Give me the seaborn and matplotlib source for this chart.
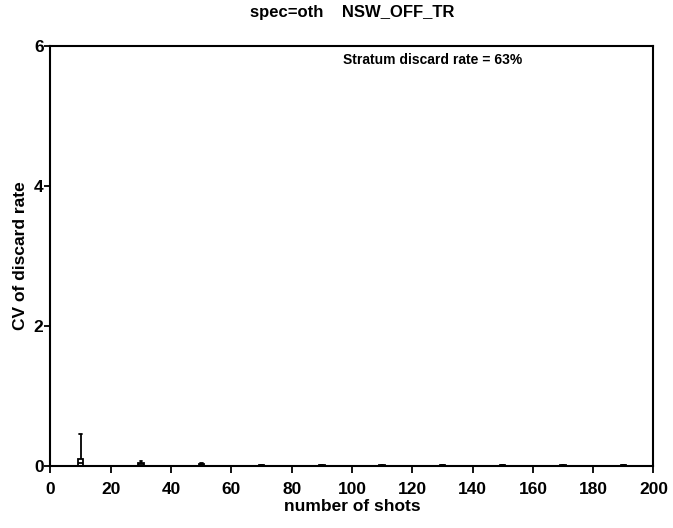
import numpy as np
import pandas as pd
import matplotlib
matplotlib.use("Agg")
import matplotlib.pyplot as plt
import seaborn as sns

# data
shots = [10, 30, 50, 70, 90, 110, 130, 150, 170, 190]
cv_min = [0.0, 0.0, 0.0, 0.0, 0.0, 0.0, 0.0, 0.0, 0.0, 0.0]
cv_q1 = [0.005, 0.005, 0.004, 0.003, 0.002, 0.002, 0.002, 0.002, 0.002, 0.002]
cv_med = [0.05, 0.03, 0.02, 0.01, 0.008, 0.008, 0.008, 0.008, 0.008, 0.008]
cv_q3 = [0.11, 0.05, 0.03, 0.015, 0.012, 0.012, 0.012, 0.012, 0.012, 0.012]
cv_max = [0.46, 0.07, 0.04, 0.02, 0.015, 0.015, 0.015, 0.015, 0.015, 0.015]
title = "spec=oth    NSW_OFF_TR"
note = "Stratum discard rate = 63%"
xticks = list(range(0, 201, 20))
yticks = [0, 2, 4, 6]

rows = []
for i, s in enumerate(shots):
    for v in (cv_min[i], cv_q1[i], cv_med[i], cv_q3[i], cv_max[i]):
        rows.append({"shots": s, "cv": v})
df = pd.DataFrame(rows)

sns.set_theme(style="ticks")
plt.rcParams["font.family"] = ["Liberation Sans", "DejaVu Sans"]
plt.rcParams["font.weight"] = "bold"
plt.rcParams["text.color"] = "black"
plt.rcParams["axes.labelcolor"] = "black"
plt.rcParams["xtick.color"] = "black"
plt.rcParams["ytick.color"] = "black"

fig = plt.figure(figsize=(6.73, 5.28), dpi=100)
ax = fig.add_axes([0.075, 0.117, 0.896, 0.796])

sns.boxplot(data=df, x="shots", y="cv", native_scale=True, orient="x",
            width=0.09, whis=np.inf, color="white", linecolor="black",
            linewidth=1.3, fill=True, ax=ax)

ax.set_xlim(0, 200)
ax.set_ylim(0, 6)
ax.set_xticks(xticks)
ax.set_yticks(yticks)
ax.set_xticklabels([str(t) for t in xticks], fontsize=12.5, fontweight="bold", color="black")
ax.set_yticklabels([str(t) for t in yticks], fontsize=12.5, fontweight="bold", color="black")
ax.set_xlabel("number of shots", fontsize=12.5, fontweight="bold", labelpad=2, color="black")
ax.set_ylabel("CV of discard rate", fontsize=12.5, fontweight="bold", labelpad=4, color="black")
ax.set_title(title, fontsize=12, fontweight="bold", pad=21, color="black")
ax.text(97, 5.8, note, fontsize=10, fontweight="bold", va="center", ha="left", color="black")

for sp in ax.spines.values():
    sp.set_visible(True)
    sp.set_linewidth(1.5)
    sp.set_color("black")
ax.tick_params(axis="x", direction="out", length=5, width=1.3, colors="black", pad=6)
ax.tick_params(axis="y", direction="out", length=4, width=1.3, colors="black", pad=1)

fig.savefig("out.png", dpi=100)
